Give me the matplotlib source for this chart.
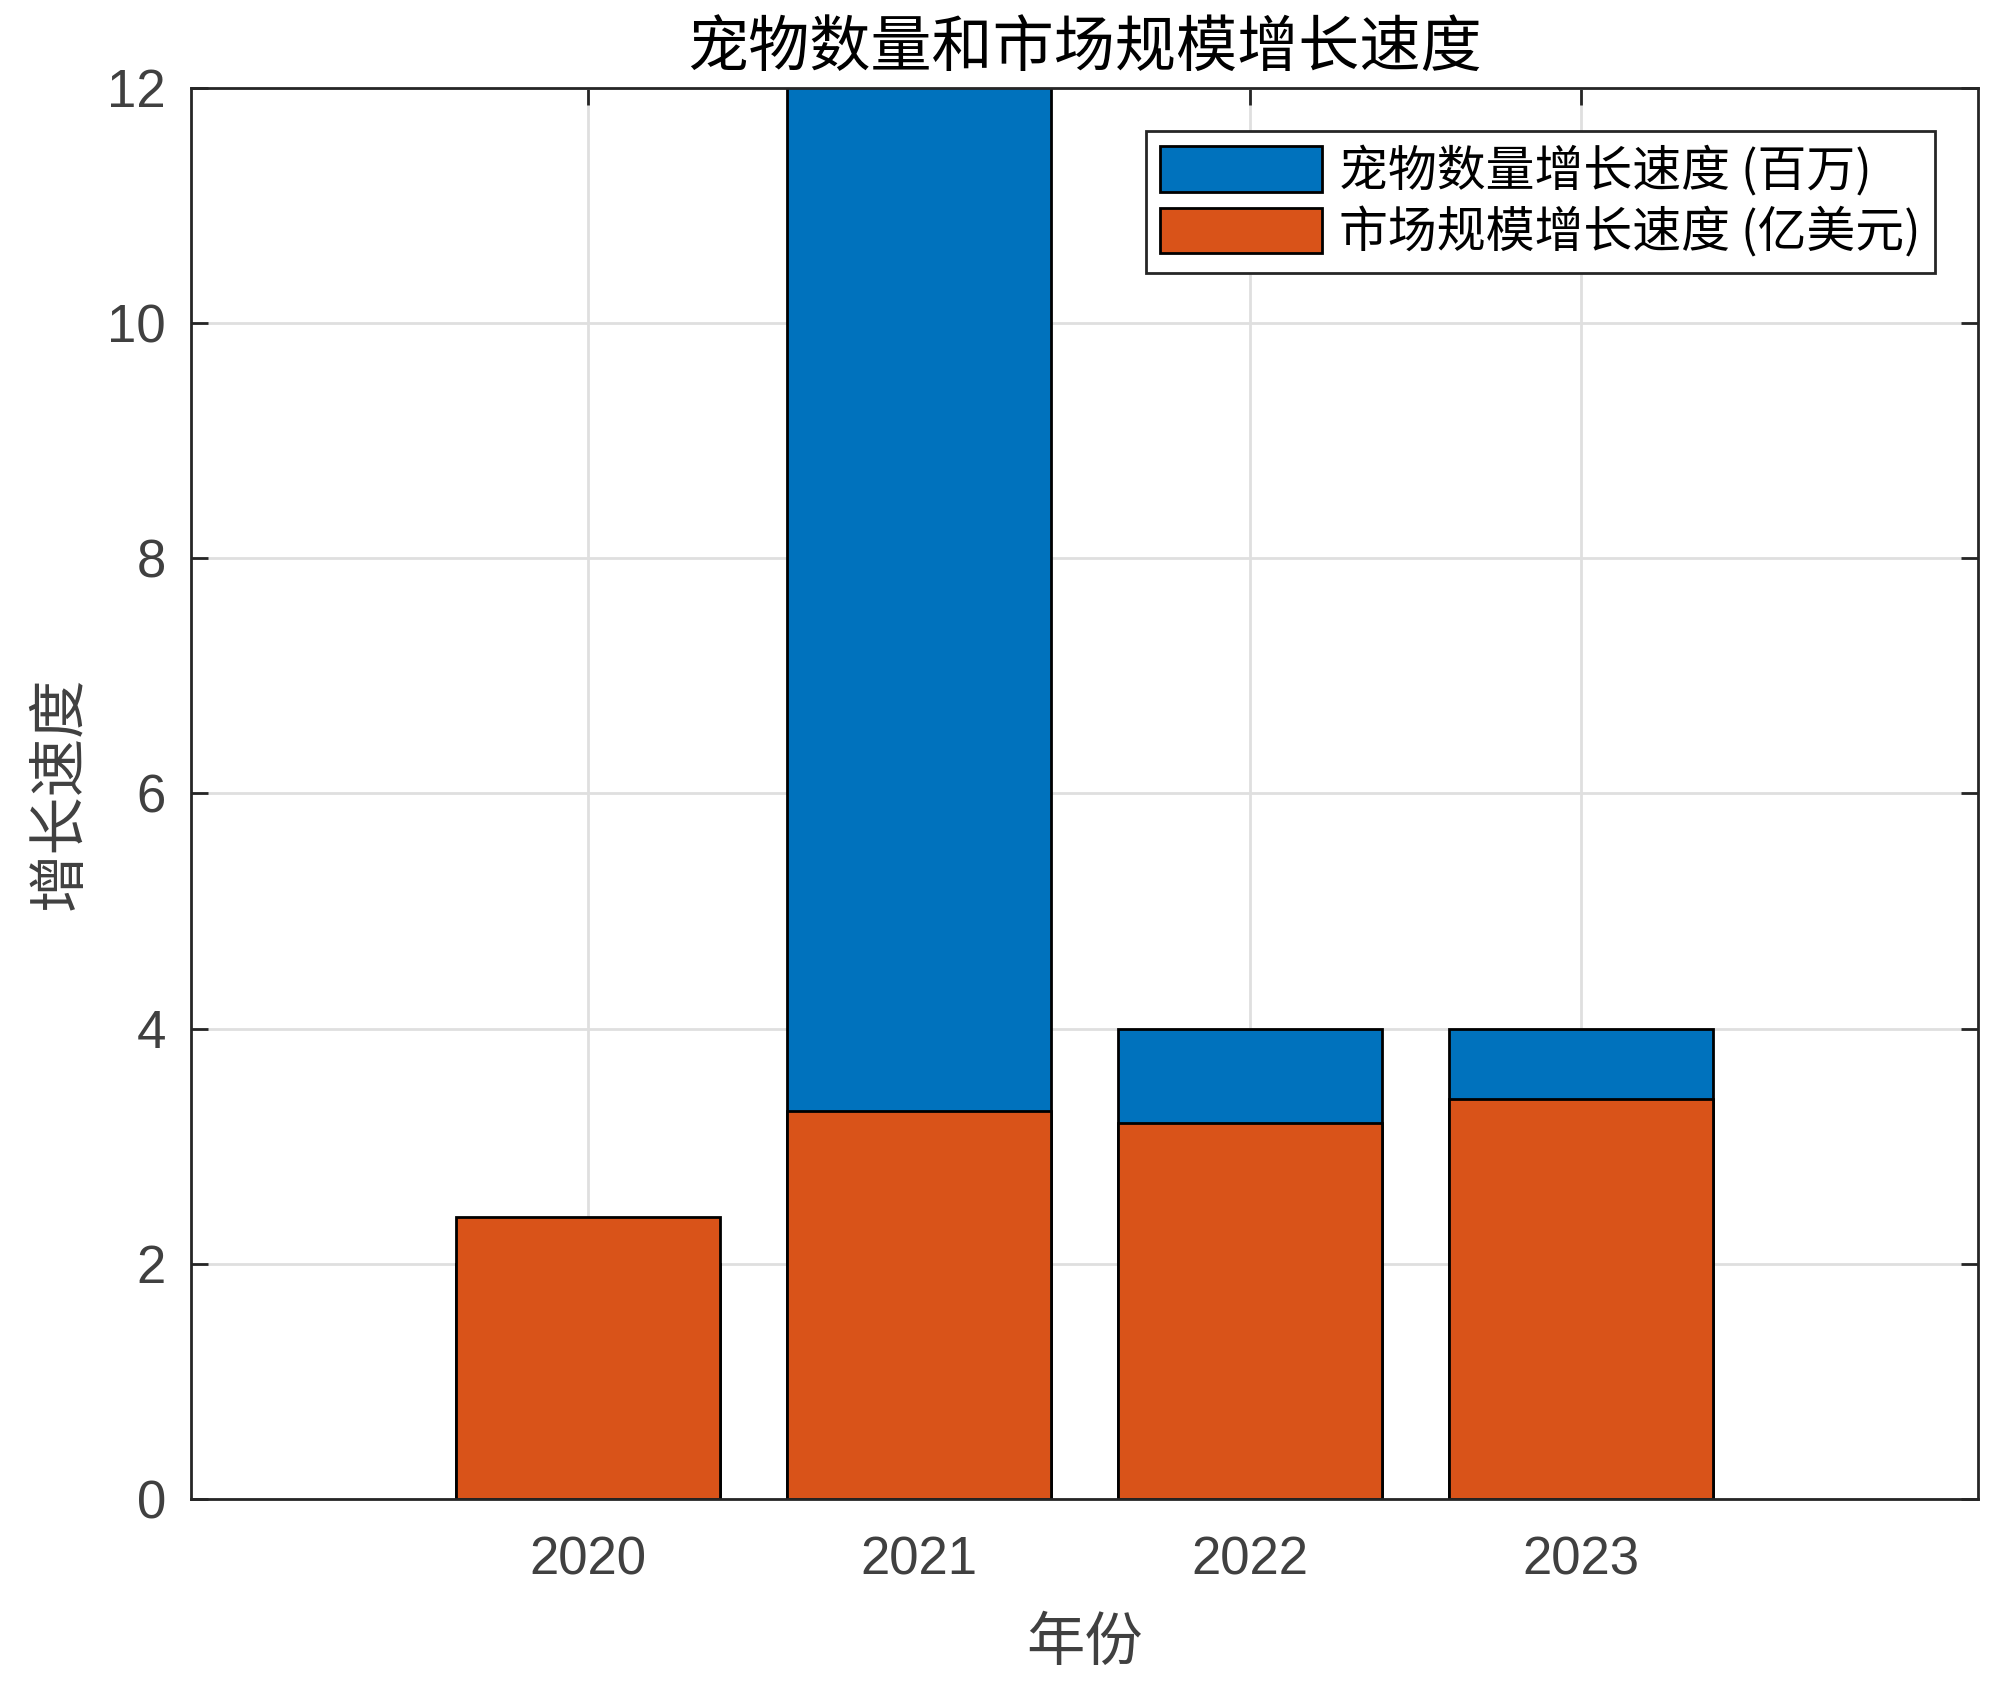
import matplotlib
matplotlib.use("Agg")
import matplotlib.pyplot as plt
import numpy as np

plt.rcParams['font.family'] = ['Liberation Sans', 'Noto Sans CJK SC', 'DejaVu Sans']

years = [2020, 2021, 2022, 2023]
pet_growth = [2.0, 15.0, 4.0, 4.0]        # 宠物数量增长速度 (百万)
market_growth = [2.4, 3.3, 3.2, 3.4]      # 市场规模增长速度 (亿美元)
labels = ['宠物数量增长速度 (百万)', '市场规模增长速度 (亿美元)']
title = '宠物数量和市场规模增长速度'
xlabel = '年份'
ylabel = '增长速度'
yticks = [0, 2, 4, 6, 8, 10, 12]

blue = '#0072BD'
orange = '#D95319'
axcol = '#262626'
tickcol = '#404040'

fig = plt.figure(figsize=(10, 8.445), dpi=200)
ax = fig.add_axes([0.0955, 0.1125, 0.8935, 0.8354])

cjk = ['Noto Sans CJK SC', 'DejaVu Sans']

b1 = ax.bar(years, pet_growth, width=0.8, color=blue, edgecolor='black', linewidth=1.0, zorder=3, label=labels[0])
b2 = ax.bar(years, market_growth, width=0.8, color=orange, edgecolor='black', linewidth=1.0, zorder=4, label=labels[1])

ax.set_xlim(2018.8, 2024.2)
ax.set_ylim(0, 12)
ax.set_xticks(years)
ax.set_yticks(yticks)
ax.grid(True, color='#dfdfdf', linewidth=1.0, zorder=0)
ax.set_axisbelow(True)

for s in ax.spines.values():
    s.set_color(axcol)
    s.set_linewidth(1.0)
    s.set_zorder(6)

ax.tick_params(axis='both', direction='in', length=6, width=1.0, color=axcol,
               labelsize=19, labelcolor=tickcol, top=True, right=True, pad=9)
ax.tick_params(axis='x', pad=13)

ax.set_title(title, fontsize=22, family=cjk, color='black', pad=8)
ax.set_xlabel(xlabel, fontsize=21, family=cjk, color=tickcol, labelpad=10)
ax.set_ylabel(ylabel, fontsize=21, family=cjk, color=tickcol, labelpad=6)

leg = ax.legend(handles=[b1, b2], labels=labels, loc='upper right',
                bbox_to_anchor=(0.976, 0.9695), borderaxespad=0,
                prop={'family': cjk, 'size': 17.6}, fancybox=False, framealpha=1,
                edgecolor=axcol, handlelength=3.3, handleheight=1.05,
                labelspacing=0.22, handletextpad=0.35, borderpad=0.3)
leg.get_frame().set_linewidth(1.0)
leg.set_zorder(10)

fig.savefig('out.png', dpi=200)
